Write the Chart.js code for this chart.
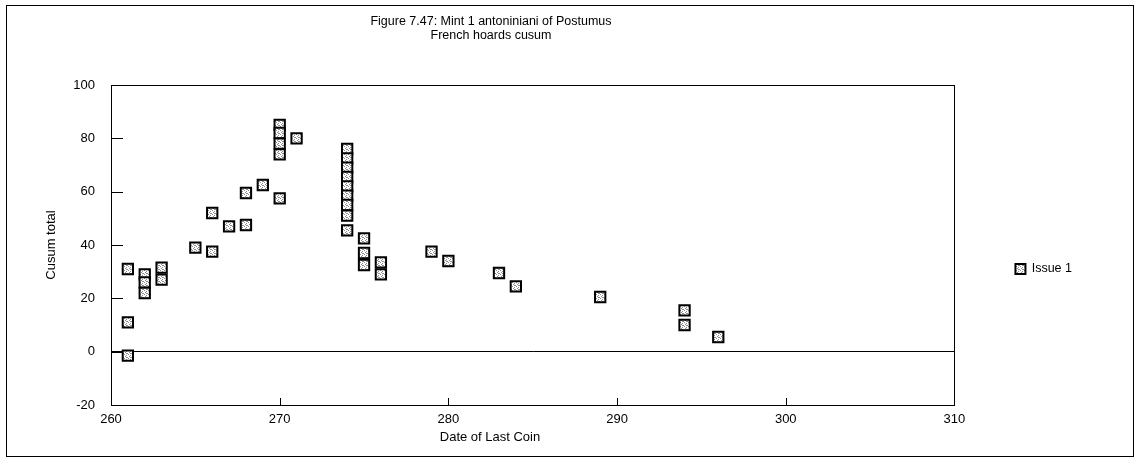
<!DOCTYPE html>
<html>
<head>
<meta charset="utf-8">
<script src="https://cdn.jsdelivr.net/npm/chart.js@4.4.0/dist/chart.umd.min.js"></script>
<style>
  html, body { margin: 0; padding: 0; background: #fff; }
  #wrap { width: 1141px; height: 467px; }
</style>
</head>
<body>
<div id="wrap"><canvas id="myChart" width="1141" height="467"></canvas></div>
<script>
let lastCoinDates = [
    261, 261, 261,
    262, 262, 262,
    263, 263,
    265,
    266, 266,
    267,
    268, 268,
    269,
    270, 270, 270, 270, 270,
    271,
    274, 274, 274, 274, 274, 274, 274, 274, 274,
    275, 275, 275,
    276, 276,
    279, 280, 283, 284, 289,
    294, 294,
    296,
  ],
  cusumTotals = [
    31, 11, -1.5,
    29, 26, 22,
    31.5, 27,
    39,
    52, 37.5,
    47,
    47.5, 59.5,
    62.5,
    85, 82, 78, 74, 57.5,
    80,
    76, 72.5, 69, 65.5, 62, 58.5, 55, 51, 45.5,
    42.5, 37, 32.5,
    33.5, 29,
    37.5, 34, 29.5, 24.5, 20.5,
    15.5, 10,
    5.5,
  ],
  xTickValues = [260, 270, 280, 290, 300, 310],
  yTickValues = [-20, 0, 20, 40, 60, 80, 100],
  titleLines = ["Figure 7.47: Mint 1 antoniniani of Postumus", "French hoards cusum"],
  xAxisTitle = "Date of Last Coin",
  yAxisTitle = "Cusum total",
  seriesLabel = "Issue 1";

Chart.defaults.font.family = '"Liberation Sans", Arial, sans-serif';
Chart.defaults.color = "#000";

// speckled fill for the square markers
function speckle() {
  let c = document.createElement("canvas");
  c.width = 4;
  c.height = 4;
  let g = c.getContext("2d");
  g.fillStyle = "#fff";
  g.fillRect(0, 0, 4, 4);
  g.fillStyle = "#8c8c8c";
  g.fillRect(1, 0, 1, 1);
  g.fillRect(3, 1, 1, 1);
  g.fillRect(0, 2, 1, 1);
  g.fillRect(2, 3, 1, 1);
  g.fillRect(2, 1, 1, 1);
  return g.createPattern(c, "repeat");
}

let markerFill = speckle();

// frame, inward ticks and the centred titles
const framePlugin = {
  id: "frame",
  afterDraw(chart) {
    let ctx = chart.ctx;
    let area = chart.chartArea;
    let xs = chart.scales.x, ys = chart.scales.y;
    ctx.save();
    ctx.strokeStyle = "#000";
    ctx.lineWidth = 1;
    ctx.strokeRect(6.5, 5.5, 1127, 451);
    ctx.strokeRect(Math.round(area.left) + 0.5, Math.round(area.top) + 0.5,
      Math.round(area.width), Math.round(area.height));
    ctx.beginPath();
    yTickValues.forEach((v) => {
      let y = Math.round(ys.getPixelForValue(v)) + 0.5;
      ctx.moveTo(area.left, y);
      ctx.lineTo(area.left + 12, y);
    });
    xTickValues.forEach((v) => {
      let x = Math.round(xs.getPixelForValue(v)) + 0.5;
      ctx.moveTo(x, area.bottom);
      ctx.lineTo(x, area.bottom - 7);
    });
    ctx.stroke();

    ctx.fillStyle = "#000";
    ctx.textAlign = "center";
    ctx.textBaseline = "middle";
    ctx.font = '12.5px "Liberation Sans", Arial, sans-serif';
    ctx.fillText(titleLines[0], 491, 22);
    ctx.fillText(titleLines[1], 491, 36);
    ctx.font = '13px "Liberation Sans", Arial, sans-serif';
    ctx.fillText(xAxisTitle, 490, 437);
    ctx.restore();
  },
};

var ctx = document.getElementById("myChart").getContext("2d");
var myChart = new Chart(ctx, {
  type: "scatter",
  data: {
    datasets: [
      {
        label: seriesLabel,
        data: lastCoinDates.map((d, i) => ({ x: d, y: cusumTotals[i] })),
        pointStyle: "rect",
        pointRadius: 7.3,
        pointHoverRadius: 7.3,
        backgroundColor: markerFill,
        borderColor: "#000",
        borderWidth: 2,
      },
    ],
  },
  options: {
    responsive: false,
    animation: false,
    devicePixelRatio: 1,
    layout: { padding: { left: 0, top: 85, right: 59, bottom: 14 } },
    plugins: {
      title: { display: false },
      tooltip: { enabled: false },
      legend: {
        position: "right",
        labels: {
          usePointStyle: true,
          boxWidth: 10,
          boxHeight: 10,
          padding: 61,
          font: { size: 12.5 },
          color: "#000",
        },
      },
    },
    scales: {
      x: {
        type: "linear",
        min: 260,
        max: 310,
        afterBuildTicks: (scale) => {
          scale.ticks = xTickValues.map((v) => ({ value: v }));
        },
        afterFit: (scale) => {
          scale.height = 48;
        },
        grid: { display: false, drawTicks: false },
        border: { color: "#000", width: 1 },
        ticks: { font: { size: 13 }, padding: 7, maxRotation: 0 },
      },
      y: {
        type: "linear",
        min: -20,
        max: 100,
        afterBuildTicks: (scale) => {
          scale.ticks = yTickValues.map((v) => ({ value: v }));
        },
        afterFit: (scale) => {
          scale.width = 111;
        },
        grid: {
          drawTicks: false,
          color: (c) => (c.tick && c.tick.value === 0 ? "#000" : "rgba(0,0,0,0)"),
        },
        border: { color: "#000", width: 1 },
        ticks: { font: { size: 13 }, padding: 16 },
        title: {
          display: true,
          text: yAxisTitle,
          font: { size: 13 },
          padding: { top: 44, bottom: 0 },
        },
      },
    },
  },
  plugins: [framePlugin],
});
</script>
</body>
</html>
